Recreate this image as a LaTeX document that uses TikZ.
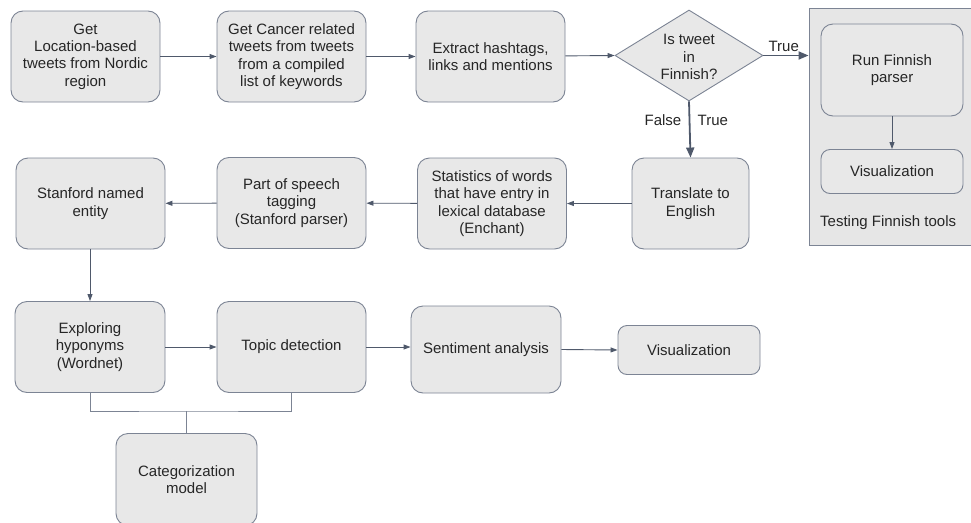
\documentclass[tikz,border=0pt]{standalone}
\usepackage{fontspec}
\setmainfont{Liberation Sans}
\usetikzlibrary{arrows.meta,shapes.geometric}
\definecolor{boxfill}{HTML}{E8E8E8}
\definecolor{boxline}{HTML}{7C8494}
\definecolor{arrowline}{HTML}{4F596B}
\definecolor{groupfill}{HTML}{E6E6E6}
\begin{document}
\begin{tikzpicture}[x=1pt,y=-1pt,
  every node/.style={font=\fontsize{15}{17.3}\selectfont, text=black!85},
  stepbox/.style={draw=boxline, fill=boxfill, rounded corners=12pt, line width=0.9pt,
    minimum width=149pt, minimum height=91pt, align=center, inner sep=2pt},
  flow/.style={draw=arrowline, line width=0.9pt, -{Triangle[length=7pt,width=5pt]}},
  bigflow/.style={draw=arrowline, line width=1.8pt, -{Triangle[length=10pt,width=8pt]}},
  joinline/.style={draw=boxline, line width=0.9pt},
]
\useasboundingbox (0,0) rectangle (971,522);
\begin{scope}
\clip (0,0) rectangle (971,522);

% group frame for the Finnish branch
\node[draw=boxline, fill=groupfill, line width=0.9pt, minimum width=168pt, minimum height=237pt,
  inner sep=0pt] (grp) at (893,126.5) {};
\node[anchor=west, inner sep=1pt] (grplabel) at (819,223) {Testing Finnish tools};

% first row
\node[stepbox] (loc) at (85.5,56.5) {Get\\Location-based\\tweets from Nordic\\region};
\node[stepbox] (can) at (291.5,56.5) {Get Cancer related\\tweets from tweets\\from a compiled\\list of keywords};
\node[stepbox] (ext) at (490.5,56.5) {Extract hashtags,\\links and mentions};
\node[draw=boxline, fill=boxfill, line width=0.9pt, shape=diamond, aspect=1.63,
  minimum width=148pt, minimum height=91pt, inner sep=0pt] (dec) at (689,55.5) {};
\node[align=center] (dectxt) at (689,57) {Is tweet\\in\\Finnish?};

% Finnish branch
\node[stepbox, minimum width=142pt, minimum height=92pt] (fin) at (892,70) {Run Finnish\\parser};
\node[stepbox, minimum width=142pt, minimum height=44pt, rounded corners=9pt] (vizf) at (892,171.5) {Visualization};

% second row
\node[stepbox, minimum width=117pt] (tra) at (690.5,203.5) {Translate to\\English};
\node[stepbox] (sta) at (492,203.5) {Statistics of words\\that have entry in\\lexical database\\(Enchant)};
\node[stepbox] (pos) at (291.5,203) {Part of speech\\tagging\\(Stanford parser)};
\node[stepbox] (ner) at (90.5,203.5) {Stanford named\\entity};

% third row
\node[stepbox, minimum width=150pt] (hyp) at (90,347) {Exploring\\hyponyms\\(Wordnet)};
\node[stepbox] (top) at (291.5,347) {Topic detection};
\node[stepbox, minimum width=150pt, minimum height=87pt] (sen) at (486,349.5) {Sentiment analysis};
\node[stepbox, minimum width=142pt, minimum height=49pt, rounded corners=9pt] (viz) at (689,350) {Visualization};

% categorization model
\node[stepbox, minimum width=141pt, minimum height=92pt] (cat) at (186.5,479.5) {Categorization\\model};
\coordinate (jn) at (186.5,411);

% connectors
\draw[flow] (loc) -- (can);
\draw[flow] (can) -- (ext);
\draw[flow] (ext) -- (dec.west);
\draw[bigflow] (dec.east) -- node[above=0pt, pos=0.45] (tlbl) {True} (grp.west |- dec.east);
\draw[bigflow] (dec.south) -- node[pos=0.33, left=4pt] (flbl) {False} node[pos=0.33, right=4pt] (tlbl2) {True} (tra.north);
\draw[flow] (fin) -- (vizf);
\draw[flow] (tra) -- (sta);
\draw[flow] (sta) -- (pos);
\draw[flow] (pos) -- (ner);
\draw[flow] (ner.south -| hyp.north) -- (hyp.north);
\draw[flow] (hyp) -- (top);
\draw[flow] (top.east) -- (top.east -| sen.west);
\draw[flow] (sen.east) -- (viz.west);
\draw[joinline] (hyp.south) |- (jn) -| (top.south);
\draw[joinline] (jn) -- (cat.north);
\end{scope}
\end{tikzpicture}
\end{document}
